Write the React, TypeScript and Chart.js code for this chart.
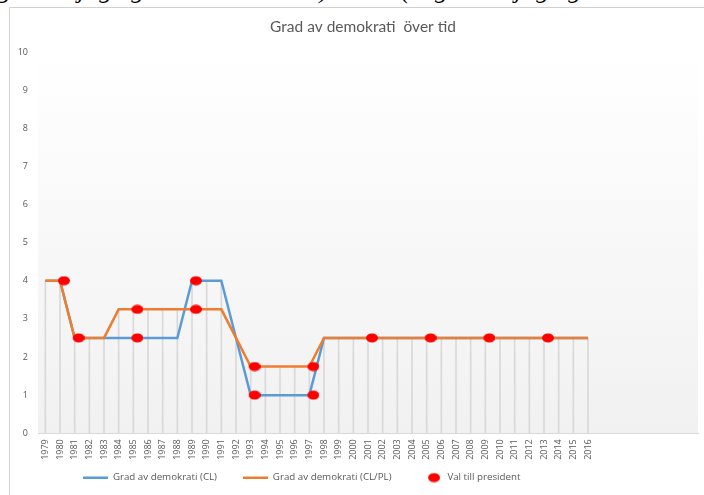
import React, { useEffect, useRef } from 'react';
import { Chart, registerables } from 'chart.js';

Chart.register(...registerables);

// ---- data ----
const years = [
  '1979', '1980', '1981', '1982', '1983', '1984', '1985', '1986', '1987', '1988',
  '1989', '1990', '1991', '1992', '1993', '1994', '1995', '1996', '1997', '1998',
  '1999', '2000', '2001', '2002', '2003', '2004', '2005', '2006', '2007', '2008',
  '2009', '2010', '2011', '2012', '2013', '2014', '2015', '2016',
];
// empty category slots that Excel kept after 2016
const emptyCategories = ['', '', '', '', '', '', ''];

const clValues = [
  4, 4, 2.5, 2.5, 2.5, 2.5, 2.5, 2.5, 2.5, 2.5,
  4, 4, 4, 2.5, 1, 1, 1, 1, 1, 2.5,
  2.5, 2.5, 2.5, 2.5, 2.5, 2.5, 2.5, 2.5, 2.5, 2.5,
  2.5, 2.5, 2.5, 2.5, 2.5, 2.5, 2.5, 2.5,
];
const clplValues = [
  4, 4, 2.5, 2.5, 2.5, 3.25, 3.25, 3.25, 3.25, 3.25,
  3.25, 3.25, 3.25, 2.5, 1.75, 1.75, 1.75, 1.75, 1.75, 2.5,
  2.5, 2.5, 2.5, 2.5, 2.5, 2.5, 2.5, 2.5, 2.5, 2.5,
  2.5, 2.5, 2.5, 2.5, 2.5, 2.5, 2.5, 2.5,
];
const electionYears = ['1980', '1981', '1985', '1985', '1989', '1989', '1993', '1993', '1997', '1997', '2001', '2005', '2009', '2013'];
const electionValues = [4, 2.5, 3.25, 2.5, 4, 3.25, 1.75, 1, 1.75, 1, 2.5, 2.5, 2.5, 2.5];

const yTicks = [0, 1, 2, 3, 4, 5, 6, 7, 8, 9, 10];

const seriesLabels = ['Grad av demokrati (CL)', 'Grad av demokrati (CL/PL)', 'Val till president'];
const chartTitle = 'Grad av demokrati  över tid';
const pageText = 'gsta möjliga grad av demokrati) till 10 (högsta möjliga grad av demokrati)';

const TEXT_COLOR = '#595959';
const SMALL_FONT = 'Open Sans';
const LEGEND_PAD = 26;

export default function App() {
  const ref = useRef<HTMLCanvasElement | null>(null);

  useEffect(() => {
    if (!ref.current) return;

    // red elliptical marker, drawn a little right of its category
    const marker = document.createElement('canvas');
    marker.width = 20;
    marker.height = 10;
    const mctx = marker.getContext('2d')!;
    mctx.fillStyle = '#ff0000';
    mctx.beginPath();
    mctx.ellipse(14, 5, 6, 4.5, 0, 0, Math.PI * 2);
    mctx.fill();

    const dropValues = clValues.map((v, i) => Math.max(v, clplValues[i]));

    const bgPlugin = {
      id: 'plotBg',
      beforeDraw(chart: any) {
        const { ctx, chartArea } = chart;
        if (!chartArea) return;
        const g = ctx.createLinearGradient(0, chartArea.top, 0, chartArea.bottom);
        g.addColorStop(0, '#ffffff');
        g.addColorStop(1, '#f1f1f1');
        ctx.save();
        ctx.fillStyle = g;
        ctx.fillRect(chartArea.left, chartArea.top, chartArea.right - chartArea.left, chartArea.bottom - chartArea.top);
        ctx.restore();
      },
    };

    const layoutTweak = {
      id: 'layoutTweak',
      afterLayout(chart: any) {
        const lg = chart.legend;
        if (lg) {
          const w = lg.right - lg.left;
          lg.left = 73 - LEGEND_PAD;
          lg.right = lg.left + w;
        }
        const t = chart.titleBlock;
        if (t) {
          t.left += 9;
          t.right += 9;
        }
        // let the rotated year labels extend below the (thin) axis box
        const xs = chart.scales.x;
        if (xs) {
          xs.bottom = xs.top + 40;
          xs.height = 40;
        }
      },
    };

    const chart = new Chart(ref.current, {
      data: {
        labels: [...years, ...emptyCategories],
        datasets: [
          {
            type: 'line',
            label: seriesLabels[0],
            data: clValues,
            borderColor: '#5B9BD5',
            backgroundColor: '#5B9BD5',
            borderWidth: 2.5,
            pointRadius: 0,
            pointHoverRadius: 0,
            pointStyle: 'line',
            tension: 0,
            order: 2,
          },
          {
            type: 'line',
            label: seriesLabels[1],
            data: clplValues,
            borderColor: '#ED7D31',
            backgroundColor: '#ED7D31',
            borderWidth: 2.5,
            pointRadius: 0,
            pointHoverRadius: 0,
            pointStyle: 'line',
            tension: 0,
            order: 1,
          },
          {
            type: 'line',
            label: seriesLabels[2],
            data: electionYears.map((y, i) => ({ x: y, y: electionValues[i] })) as any,
            showLine: false,
            pointStyle: marker as any,
            pointRadius: 5,
            backgroundColor: '#ff0000',
            borderColor: '#ff0000',
            order: 0,
          },
          {
            type: 'bar',
            label: 'drop',
            data: dropValues,
            backgroundColor: '#d9d9d9',
            barThickness: 1,
            order: 3,
          },
        ] as any,
      },
      options: {
        animation: false,
        responsive: false,
        maintainAspectRatio: false,
        layout: { padding: { left: 0, right: 18, top: 0, bottom: 2.5 } },
        plugins: {
          tooltip: { enabled: false },
          title: {
            display: true,
            text: chartTitle,
            color: TEXT_COLOR,
            font: { family: 'Lato', size: 15.5, weight: 'normal', lineHeight: 1.2 },
            padding: { top: 10, bottom: 15.4 },
          },
          legend: {
            position: 'bottom',
            align: 'start',
            labels: {
              usePointStyle: true,
              pointStyleWidth: 25,
              padding: LEGEND_PAD,
              color: TEXT_COLOR,
              font: { family: SMALL_FONT, size: 9.75 },
              filter: (item: any) => item.datasetIndex !== 3,
              sort: (a: any, b: any) => a.datasetIndex - b.datasetIndex,
            },
          },
        },
        scales: {
          x: {
            type: 'category',
            offset: true,
            grid: { display: false, drawTicks: false },
            border: { display: true, color: '#d9d9d9', width: 1 },
            ticks: {
              autoSkip: false,
              maxRotation: 90,
              minRotation: 90,
              padding: 6,
              color: TEXT_COLOR,
              font: { family: SMALL_FONT, size: 9 },
            },
            afterFit: (s: any) => { s.height = 13.5; },
          },
          y: {
            min: 0,
            max: 10,
            afterBuildTicks: (s: any) => { s.ticks = yTicks.map((v) => ({ value: v })); },
            grid: { display: false, drawTicks: false },
            border: { display: false },
            ticks: {
              padding: 10,
              color: TEXT_COLOR,
              font: { family: SMALL_FONT, size: 9 },
            },
            afterFit: (s: any) => { s.width = 28; },
          },
        },
      } as any,
      plugins: [bgPlugin, layoutTweak],
    });

    return () => chart.destroy();
  }, []);

  return (
    <>
      <div style={{ position: 'absolute', left: 0, top: 0, width: 704, height: 8, overflow: 'hidden' }}>
        <div
          style={{
            position: 'absolute',
            left: -2,
            top: -23,
            whiteSpace: 'nowrap',
            fontFamily: '"Liberation Serif", serif',
            fontStyle: 'italic',
            fontSize: 25.5,
            lineHeight: 1,
            color: '#000',
          }}
        >
          {pageText}
        </div>
      </div>
      <div
        style={{
          position: 'absolute',
          left: 9,
          top: 7,
          width: 695,
          height: 488,
          overflow: 'hidden',
          borderLeft: '1px solid #d0d0d0',
          borderTop: '1px solid #d0d0d0',
          boxSizing: 'border-box',
        }}
      >
        <canvas ref={ref} width={706} height={487} style={{ display: 'block', width: 706, height: 487 }} />
      </div>
    </>
  );
}
